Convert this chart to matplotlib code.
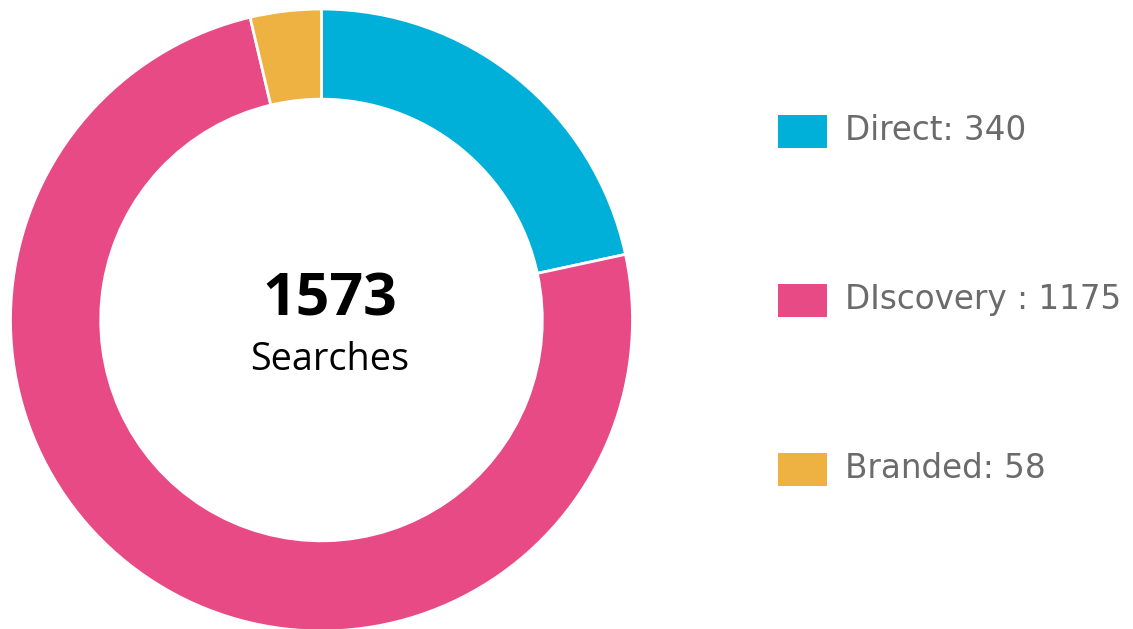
import matplotlib.pyplot as plt
from matplotlib.patches import Rectangle

labels = ['Direct: 340', 'DIscovery : 1175', 'Branded: 58']
values = [340, 1175, 58]
colors = ['#00b0d8', '#e84a85', '#eeb243']
total = 1573

W, H = 1133, 629
fig = plt.figure(figsize=(W / 100, H / 100), dpi=100)

# donut, centre ~(321.5, 320) px, outer radius ~311 px
cx, cy, R = 321.5, 320, 311
ax = fig.add_axes([(cx - R) / W, (H - cy - R) / H, 2 * R / W, 2 * R / H])
ax.pie(values, colors=colors, startangle=90, counterclock=False, radius=1,
       wedgeprops=dict(width=0.29, edgecolor='white', linewidth=2))
ax.set_xlim(-1, 1)
ax.set_ylim(-1, 1)
ax.set_aspect('equal')
ax.axis('off')

# centre label sits a little right of the hole's centre
ax.text(0.026, 0.065, str(total), ha='center', va='center', fontsize=42.5,
        fontweight='bold', family='Open Sans', color='black')
ax.text(0.026, -0.13, 'Searches', ha='center', va='center', fontsize=27.2,
        family='Open Sans', color='black')

# legend
ys = [131, 300, 469]
for lab, col, y in zip(labels, colors, ys):
    fig.patches.append(Rectangle((778 / W, (H - y - 16.5) / H), 49 / W, 33 / H,
                                 transform=fig.transFigure, facecolor=col,
                                 edgecolor='none'))
    fig.text(845 / W, (H - y) / H, lab, ha='left', va='center', fontsize=23.5,
             family='DejaVu Sans', color='#6b6b6b')

fig.savefig('out.png', dpi=100)
